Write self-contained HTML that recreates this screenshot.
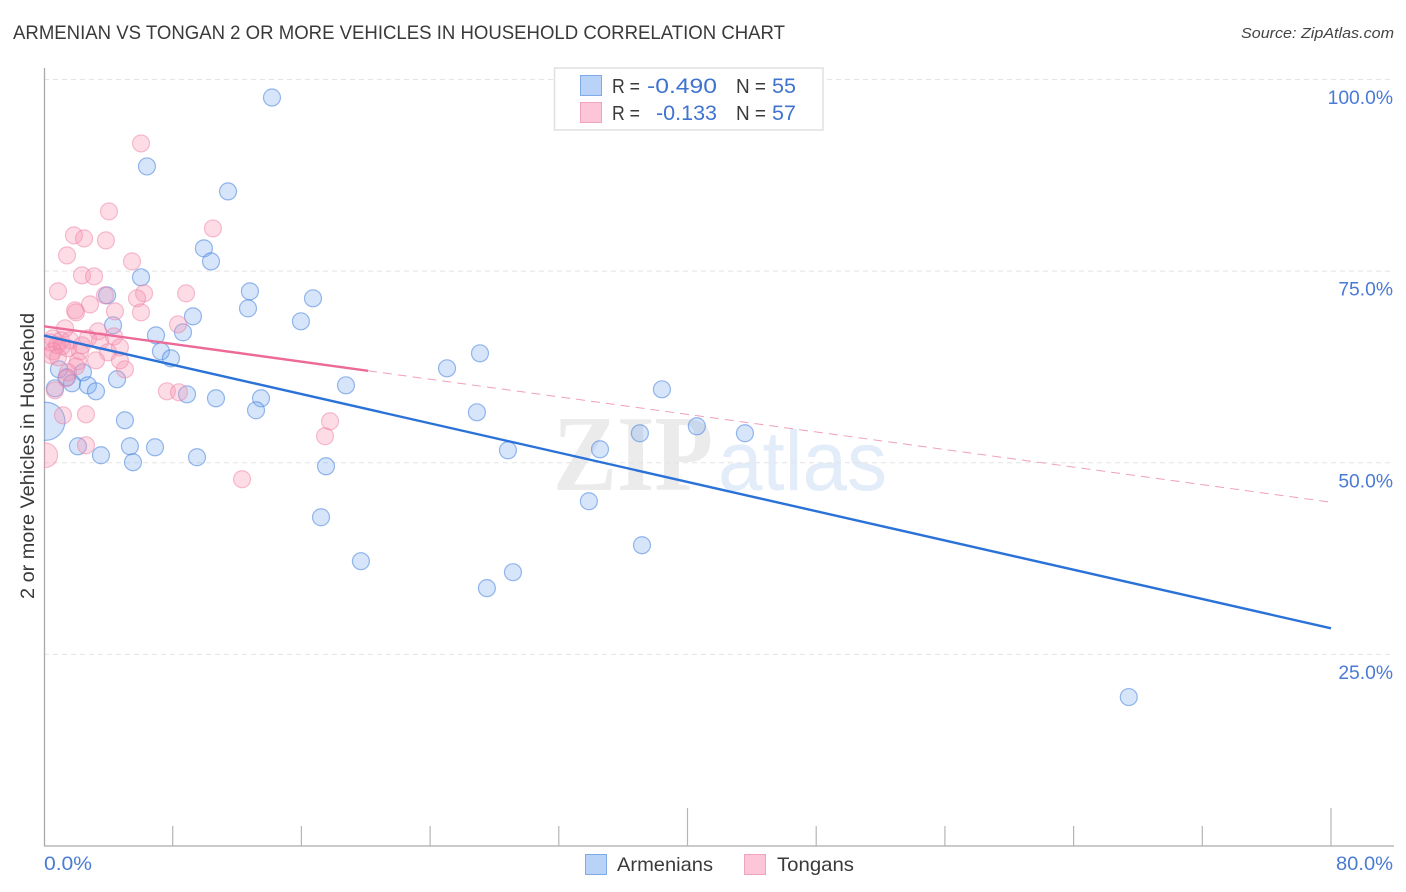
<!DOCTYPE html>
<html lang="en">
<head>
<meta charset="utf-8">
<title>Armenian vs Tongan 2 or More Vehicles in Household Correlation Chart</title>
<style>
html,body{margin:0;padding:0;background:#fff;width:1406px;height:892px;overflow:hidden}
svg{display:block;font-family:"Liberation Sans",sans-serif}
</style>
</head>
<body>
<svg id="chart" width="1406" height="892" viewBox="0 0 1406 892" xmlns="http://www.w3.org/2000/svg">
  <defs>
    <clipPath id="plot-clip"><rect x="44" y="60" width="1350" height="786"/></clipPath>
  </defs>
  <rect width="1406" height="892" fill="#fff"/>
  <text x="13" y="39" font-size="19" fill="#3a3a3a" textLength="772" lengthAdjust="spacingAndGlyphs">ARMENIAN VS TONGAN 2 OR MORE VEHICLES IN HOUSEHOLD CORRELATION CHART</text>
  <text x="1394" y="38" font-size="15" font-style="italic" fill="#444" text-anchor="end" textLength="153" lengthAdjust="spacingAndGlyphs">Source: ZipAtlas.com</text>
  <g id="watermark">
    <text x="553" y="490" font-family="'Liberation Serif',serif" font-weight="bold" font-size="108" fill="#ebebeb" textLength="160" lengthAdjust="spacingAndGlyphs">ZIP</text>
    <text x="718" y="490" font-size="84" fill="#e3ecf9" textLength="169" lengthAdjust="spacingAndGlyphs">atlas</text>
  </g>
  <g id="grid"></g>
  <g id="axes"></g>
  <g id="points" clip-path="url(#plot-clip)"></g>
  <g id="trends" clip-path="url(#plot-clip)"></g>
  <g>
    <rect x="554.5" y="68" width="268.5" height="62" fill="#fff" stroke="#e0e0e0" stroke-width="1.5"/>
    <rect x="580.5" y="75.5" width="21" height="20" fill="#b9d3f8" stroke="#7eaae6" stroke-width="1"/>
    <rect x="580.5" y="102.5" width="21" height="20" fill="#fcc6d8" stroke="#f0a3bc" stroke-width="1"/>
    <text x="612" y="93" font-size="20" fill="#3a3a3a" textLength="28" lengthAdjust="spacingAndGlyphs">R =</text>
    <text x="717" y="93" font-size="21.5" fill="#3f73d0" text-anchor="end" textLength="70" lengthAdjust="spacingAndGlyphs">-0.490</text>
    <text x="736" y="93" font-size="20" fill="#3a3a3a" textLength="30" lengthAdjust="spacingAndGlyphs">N =</text>
    <text x="772" y="93" font-size="21.5" fill="#3f73d0">55</text>
    <text x="612" y="120" font-size="20" fill="#3a3a3a" textLength="28" lengthAdjust="spacingAndGlyphs">R =</text>
    <text x="717" y="120" font-size="21.5" fill="#3f73d0" text-anchor="end" textLength="61" lengthAdjust="spacingAndGlyphs">-0.133</text>
    <text x="736" y="120" font-size="20" fill="#3a3a3a" textLength="30" lengthAdjust="spacingAndGlyphs">N =</text>
    <text x="772" y="120" font-size="21.5" fill="#3f73d0">57</text>
  </g>
  <text transform="translate(34,456) rotate(-90)" font-size="19" fill="#3a3a3a" text-anchor="middle" textLength="286" lengthAdjust="spacingAndGlyphs">2 or more Vehicles in Household</text>
  <g>
    <rect x="585.5" y="854.5" width="21" height="20" fill="#b9d3f8" stroke="#7eaae6" stroke-width="1"/>
    <text x="617" y="871" font-size="19.5" fill="#3a3a3a" textLength="96" lengthAdjust="spacingAndGlyphs">Armenians</text>
    <rect x="744.5" y="854.5" width="21" height="20" fill="#fcc6d8" stroke="#f0a3bc" stroke-width="1"/>
    <text x="777" y="871" font-size="19.5" fill="#3a3a3a" textLength="77" lengthAdjust="spacingAndGlyphs">Tongans</text>
  </g>
</svg>
<script>
const armenianX = [14.17,6.40,11.44,9.94,10.38,6.03,12.80,3.92,16.72,12.68,9.26,15.97,4.29,6.96,8.64,7.27,7.89,27.10,25.05,0.93,2.42,1.43,1.74,2.73,4.54,3.23,0.68,18.77,8.89,10.69,13.49,13.18,26.91,38.41,5.03,0.12,40.58,37.04,43.57,2.11,5.34,6.90,34.56,28.84,3.54,9.51,5.53,17.53,33.87,17.22,37.17,19.70,29.15,27.53,67.43];
const armenianY = [97.65,88.66,85.40,77.97,76.27,74.19,72.36,71.84,71.45,70.14,69.10,68.45,67.93,66.62,67.01,64.54,63.62,64.28,62.32,62.19,61.80,61.15,60.37,60.10,60.89,59.32,59.71,60.10,58.93,58.41,58.41,56.85,56.58,59.58,55.54,55.41,54.76,53.85,53.85,52.15,52.15,52.02,51.76,51.63,50.98,50.72,50.07,49.54,44.98,42.89,39.24,37.16,35.72,33.64,19.43];
const armenianWeight = [1,1,1,1,1,1,1,1,1,1,1,1,1,1,1,1,1,1,1,1,1,1,1,1,1,1,1,1,1,1,1,1,1,1,1,5,1,1,1,1,1,1,1,1,1,1,1,1,1,1,1,1,1,1,1];
const tonganX = [6.03,4.04,10.50,1.86,2.49,3.85,1.43,5.47,2.36,3.11,0.87,6.22,8.83,3.79,5.78,2.86,1.93,1.99,6.03,4.41,8.33,1.31,3.36,4.35,2.73,0.56,1.06,1.62,3.48,0.37,0.81,1.12,4.72,1.49,0.56,3.98,2.24,0.44,3.23,4.72,2.11,1.99,5.03,1.49,1.37,7.64,8.39,0.68,1.18,2.61,2.61,0.08,17.47,17.78,12.31,2.36,0.87];
const tonganY = [91.66,82.79,80.57,79.66,79.27,79.01,77.05,76.27,74.45,74.32,72.36,72.10,72.10,71.84,71.45,70.66,69.88,69.62,69.62,69.75,68.06,67.54,67.14,66.49,66.23,66.23,65.97,65.97,65.84,65.71,65.32,65.19,65.06,64.93,64.54,64.41,64.54,64.02,63.36,63.36,63.23,62.58,62.19,61.80,61.02,59.32,59.19,59.45,56.19,56.32,52.28,50.98,53.46,55.41,47.85,65.32,63.76];
const tonganWeight = [1,1,1,1,1,1,1,1,1,1,1,1,1,1,1,1,1,1,1,1,1,1,1,1,1,1,1,1,1,1,1,1,1,1,1,1,1,1,1,1,1,1,1,1,1,1,1,1,1,1,1,2.1,1,1,1,1,1];
const armenianTrendX = [0,80];
const armenianTrendY = [66.6,28.4];
const tonganTrendX = [0,20.14];
const tonganTrendY = [67.8,62.0];
const tonganDashX = [20.14,80];
const tonganDashY = [62.0,44.85];
const yTickValues = [100,75,50,25];
const yTickLabels = ["100.0%","75.0%","50.0%","25.0%"];
const xTickValues = [8,16,24,32,40,48,56,64,72,80];
const xMajorValues = [40,80];
const xEndValues = [0,80];
const xEndLabels = ["0.0%","80.0%"];
const xEndLabelWidths = [48,57];

const NS = "http://www.w3.org/2000/svg";
function xScale(v){ return 44 + v * (1331 - 44) / 80; }
function yScale(v){ return 846 - v * (846 - 79.5) / 100; }
function rScale(w){ return 8.5 * Math.sqrt(w); }
function make(tag, attrs, parent){
  const el = document.createElementNS(NS, tag);
  for (const k in attrs) el.setAttribute(k, attrs[k]);
  parent.appendChild(el);
  return el;
}
const grid = document.getElementById("grid");
const axes = document.getElementById("axes");
const points = document.getElementById("points");
const trends = document.getElementById("trends");

yTickValues.forEach(function(v, i){
  const line = make("line", {x1:44, x2:1394, y1:yScale(v), y2:yScale(v), stroke:"#e4e4e4", "stroke-width":1, "stroke-dasharray":"5 4"}, grid);
  
  
  const label = make("text", {x:1393, y:yScale(v) + 24.5, "font-size":19.3, fill:"#4a7bd4", "text-anchor":"end"}, axes);
  
  
  label.textContent = yTickLabels[i];
});

const yAxis = make("line", {x1:44.5, x2:44.5, y1:68, y2:846, stroke:"#aaa", "stroke-width":1.3}, axes);


const xAxis = make("line", {x1:44, x2:1394, y1:846, y2:846, stroke:"#aaa", "stroke-width":1.3}, axes);



xTickValues.forEach(function(v){
  const major = xMajorValues.indexOf(v) >= 0;
  const tick = make("line", {x1:xScale(v), x2:xScale(v), y1:major ? 808 : 826, y2:846, stroke:"#b5b5b5", "stroke-width":1.2}, axes);
  
  
});

xEndValues.forEach(function(v, i){
  const label = make("text", {x:i === 0 ? xScale(v) : 1393, y:870, "font-size":19.3, fill:"#4a7bd4", "text-anchor":i === 0 ? "start" : "end", textLength:xEndLabelWidths[i], lengthAdjust:"spacingAndGlyphs"}, axes);
  
  
  label.textContent = xEndLabels[i];
});

armenianX.forEach(function(v, i){
  const c = make("circle", {cx:xScale(v), cy:yScale(armenianY[i]), r:rScale(armenianWeight[i]), fill:"rgba(120,170,240,0.3)", stroke:"rgba(70,130,220,0.55)", "stroke-width":1.2}, points);
  
  
});
tonganX.forEach(function(v, i){
  const c = make("circle", {cx:xScale(v), cy:yScale(tonganY[i]), r:rScale(tonganWeight[i]), fill:"rgba(248,150,180,0.33)", stroke:"rgba(238,130,165,0.5)", "stroke-width":1.2}, points);
  
  
});

const armenianTrend = make("line", {x1:xScale(armenianTrendX[0]), y1:yScale(armenianTrendY[0]), x2:xScale(armenianTrendX[1]), y2:yScale(armenianTrendY[1]), stroke:"#2a72d8", "stroke-width":2.4}, trends);


const tonganDash = make("line", {x1:xScale(tonganDashX[0]), y1:yScale(tonganDashY[0]), x2:xScale(tonganDashX[1]), y2:yScale(tonganDashY[1]), stroke:"#f0a0ba", "stroke-width":1, "stroke-dasharray":"9 6"}, trends);


const tonganTrend = make("line", {x1:xScale(tonganTrendX[0]), y1:yScale(tonganTrendY[0]), x2:xScale(tonganTrendX[1]), y2:yScale(tonganTrendY[1]), stroke:"#ec6a97", "stroke-width":2.4}, trends);


</script>
</body>
</html>
